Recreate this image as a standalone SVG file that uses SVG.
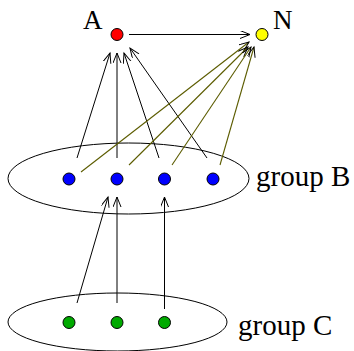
<svg xmlns="http://www.w3.org/2000/svg" width="354" height="351" viewBox="0 0 354 351">
<style>
.n{stroke:#000;stroke-width:1}
.e{fill:none;stroke:#000;stroke-width:1}
.k{stroke:#000;stroke-width:1;fill:none;marker-end:url(#ak)}
.o{stroke:#5c5c00;stroke-width:1.1;fill:none;marker-end:url(#ak)}
.t{font-family:"Liberation Serif","Times New Roman",serif;font-size:27px;fill:#000}
.g{font-size:29px}
</style>
<defs>
<marker id="ak" markerUnits="userSpaceOnUse" markerWidth="12" markerHeight="10" refX="10" refY="4" orient="auto">
<path d="M0,0 L10,4 L0,8" fill="none" stroke="#000" stroke-width="1"/>
</marker>
</defs>
<g id="groupB">
<ellipse class="e" cx="128.5" cy="178.5" rx="120.5" ry="35.5"/>
<text class="t g" x="256" y="186">group B</text>
</g>
<g id="groupC">
<ellipse class="e" cx="117.5" cy="322" rx="109.5" ry="29"/>
<text class="t g" x="238" y="335">group C</text>
</g>
<g id="connectors">
<line class="k" x1="129" y1="34.5" x2="250" y2="34.5"/>
<line class="k" x1="77" y1="158" x2="110" y2="53"/>
<line class="k" x1="117" y1="158" x2="117" y2="53"/>
<line class="k" x1="159" y1="158" x2="124" y2="53"/>
<line class="k" x1="207" y1="158" x2="130" y2="48"/>
<line class="o" x1="81" y1="172" x2="249" y2="42"/>
<line class="o" x1="129" y1="165" x2="248" y2="47"/>
<line class="o" x1="172" y1="165" x2="251" y2="47"/>
<line class="o" x1="220" y1="165" x2="254" y2="47"/>
<line class="k" x1="77" y1="303" x2="108" y2="197"/>
<line class="k" x1="117" y1="303" x2="117" y2="197"/>
<line class="k" x1="164.5" y1="309" x2="164.5" y2="197"/>
</g>
<g id="A"><circle class="n" cx="117" cy="34.5" r="6" fill="#ff0000"/><text class="t" x="83" y="29">A</text></g>
<g id="N"><circle class="n" cx="262" cy="34.5" r="6" fill="#ffff00"/><text class="t" x="273" y="29">N</text></g>
<g id="B1"><circle class="n" cx="69" cy="179" r="6" fill="#0000ff"/></g>
<g id="B2"><circle class="n" cx="117" cy="179" r="6" fill="#0000ff"/></g>
<g id="B3"><circle class="n" cx="164.5" cy="179" r="6" fill="#0000ff"/></g>
<g id="B4"><circle class="n" cx="213" cy="179" r="6" fill="#0000ff"/></g>
<g id="C1"><circle class="n" cx="69" cy="322.5" r="6" fill="#00aa00"/></g>
<g id="C2"><circle class="n" cx="117" cy="322.5" r="6" fill="#00aa00"/></g>
<g id="C3"><circle class="n" cx="164.5" cy="322.5" r="6" fill="#00aa00"/></g>
</svg>
